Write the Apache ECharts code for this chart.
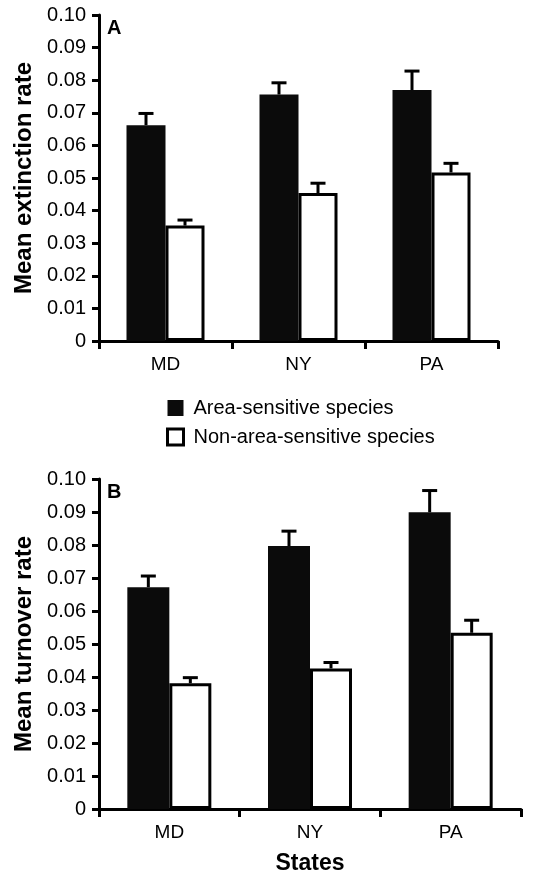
<!DOCTYPE html>
<html>
<head>
<meta charset="utf-8">
<script src="https://cdn.jsdelivr.net/npm/echarts@6/dist/echarts.min.js"></script>
<style>
html,body{margin:0;padding:0;background:#fff;}
#c{width:550px;height:876px;}
</style>
</head>
<body>
<div id="c"></div>
<script>
const states = ['MD', 'NY', 'PA'];
const seriesNames = ['Area-sensitive species', 'Non-area-sensitive species'];
// Panel A: mean extinction rate
const extArea = [0.0662, 0.0756, 0.0770];
const extAreaErr = [0.0036, 0.0036, 0.0058];
const extNon = [0.0354, 0.0454, 0.0517];
const extNonErr = [0.0017, 0.0030, 0.0028];
// Panel B: mean turnover rate
const turnArea = [0.0672, 0.0797, 0.0899];
const turnAreaErr = [0.0034, 0.0045, 0.0066];
const turnNon = [0.0381, 0.0426, 0.0534];
const turnNonErr = [0.0017, 0.0018, 0.0038];

const FONT = '"Liberation Sans", Arial, Helvetica, sans-serif';
const chart = echarts.init(document.getElementById('c'), null, {renderer: 'canvas'});

function errData(means, errs) {
  return means.map((m, i) => [i, m, m + errs[i]]);
}
function errSeries(name, xi, yi, means, errs, side, bw) {
  return {
    type: 'custom', name: name + ' err', xAxisIndex: xi, yAxisIndex: yi, z: 1,
    silent: true, legendHoverLink: false,
    data: errData(means, errs),
    encode: {x: 0, y: [1, 2]},
    renderItem: function (params, api) {
      const base = api.coord([api.value(0), api.value(1)]);
      const top = api.coord([api.value(0), api.value(2)]);
      const x = base[0] + side * bw / 2;
      const cap = 7.5;
      return {
        type: 'group',
        children: [
          {type: 'line', shape: {x1: x, y1: base[1], x2: x, y2: top[1]}, style: {stroke: '#000', lineWidth: 3}},
          {type: 'line', shape: {x1: x - cap, y1: top[1], x2: x + cap, y2: top[1]}, style: {stroke: '#000', lineWidth: 3}}
        ]
      };
    }
  };
}

function yAxis(gi, title, gap) {
  return {
    type: 'value', gridIndex: gi, min: 0, max: 0.1, interval: 0.01,
    name: title, nameLocation: 'middle', nameGap: gap,
    nameTextStyle: {fontFamily: FONT, fontSize: 24, fontWeight: 'bold', color: '#000'},
    axisLine: {show: true, lineStyle: {color: '#000', width: 3}},
    axisTick: {show: true, length: 7, lineStyle: {color: '#000', width: 3}},
    splitLine: {show: false},
    axisLabel: {
      margin: 13, fontFamily: FONT, fontSize: 20, color: '#000',
      formatter: v => (Math.abs(v) < 1e-9 ? '0' : v.toFixed(2))
    }
  };
}
function xAxis(gi, title) {
  return {
    type: 'category', gridIndex: gi, data: states,
    name: title, nameLocation: 'middle', nameGap: 43,
    nameTextStyle: {fontFamily: FONT, fontSize: 23, fontWeight: 'bold', color: '#000'},
    axisLine: {show: true, lineStyle: {color: '#000', width: 3}},
    axisTick: {show: true, length: 8, lineStyle: {color: '#000', width: 3}},
    axisLabel: {margin: 14, fontFamily: FONT, fontSize: 19, color: '#000'}
  };
}

const bwA = 39, bwB = 42;
const option = {
  backgroundColor: '#fff',
  animation: false,
  grid: [
    {left: 99, top: 15, width: 399, height: 326},
    {left: 99, top: 479, width: 422, height: 333}
  ],
  xAxis: [xAxis(0, ''), xAxis(1, 'States')],
  yAxis: [yAxis(0, 'Mean extinction rate', 63), yAxis(1, 'Mean turnover rate', 63)],
  legend: {
    orient: 'vertical', left: 161, top: 393, itemWidth: 16, itemHeight: 16, itemGap: 9,
    icon: 'rect',
    textStyle: {fontFamily: FONT, fontSize: 20, color: '#000', padding: [0, 0, 0, 5]},
    data: [
      {name: seriesNames[0], itemStyle: {color: '#0b0b0b', borderWidth: 0}},
      {name: seriesNames[1], itemStyle: {color: '#fff', borderColor: '#000', borderWidth: 3}}
    ]
  },
  graphic: [
    {type: 'text', left: 107, top: 18, style: {text: 'A', font: 'bold 20px ' + FONT, fill: '#000'}},
    {type: 'text', left: 107, top: 482, style: {text: 'B', font: 'bold 20px ' + FONT, fill: '#000'}}
  ],
  series: [
    {type: 'bar', name: seriesNames[0], xAxisIndex: 0, yAxisIndex: 0, data: extArea, barWidth: bwA, barGap: '0%',
      itemStyle: {color: '#0b0b0b'}, z: 2},
    {type: 'bar', name: seriesNames[1], xAxisIndex: 0, yAxisIndex: 0, data: extNon, barWidth: bwA, barGap: '0%',
      itemStyle: {color: '#fff', borderColor: '#000', borderWidth: 3}, z: 2},
    {type: 'bar', name: seriesNames[0], xAxisIndex: 1, yAxisIndex: 1, data: turnArea, barWidth: bwB, barGap: '0%',
      itemStyle: {color: '#0b0b0b'}, z: 2},
    {type: 'bar', name: seriesNames[1], xAxisIndex: 1, yAxisIndex: 1, data: turnNon, barWidth: bwB, barGap: '0%',
      itemStyle: {color: '#fff', borderColor: '#000', borderWidth: 3}, z: 2},
    errSeries('A1', 0, 0, extArea, extAreaErr, -1, bwA),
    errSeries('A2', 0, 0, extNon, extNonErr, 1, bwA),
    errSeries('B1', 1, 1, turnArea, turnAreaErr, -1, bwB),
    errSeries('B2', 1, 1, turnNon, turnNonErr, 1, bwB)
  ]
};
chart.setOption(option);
</script>
</body>
</html>
